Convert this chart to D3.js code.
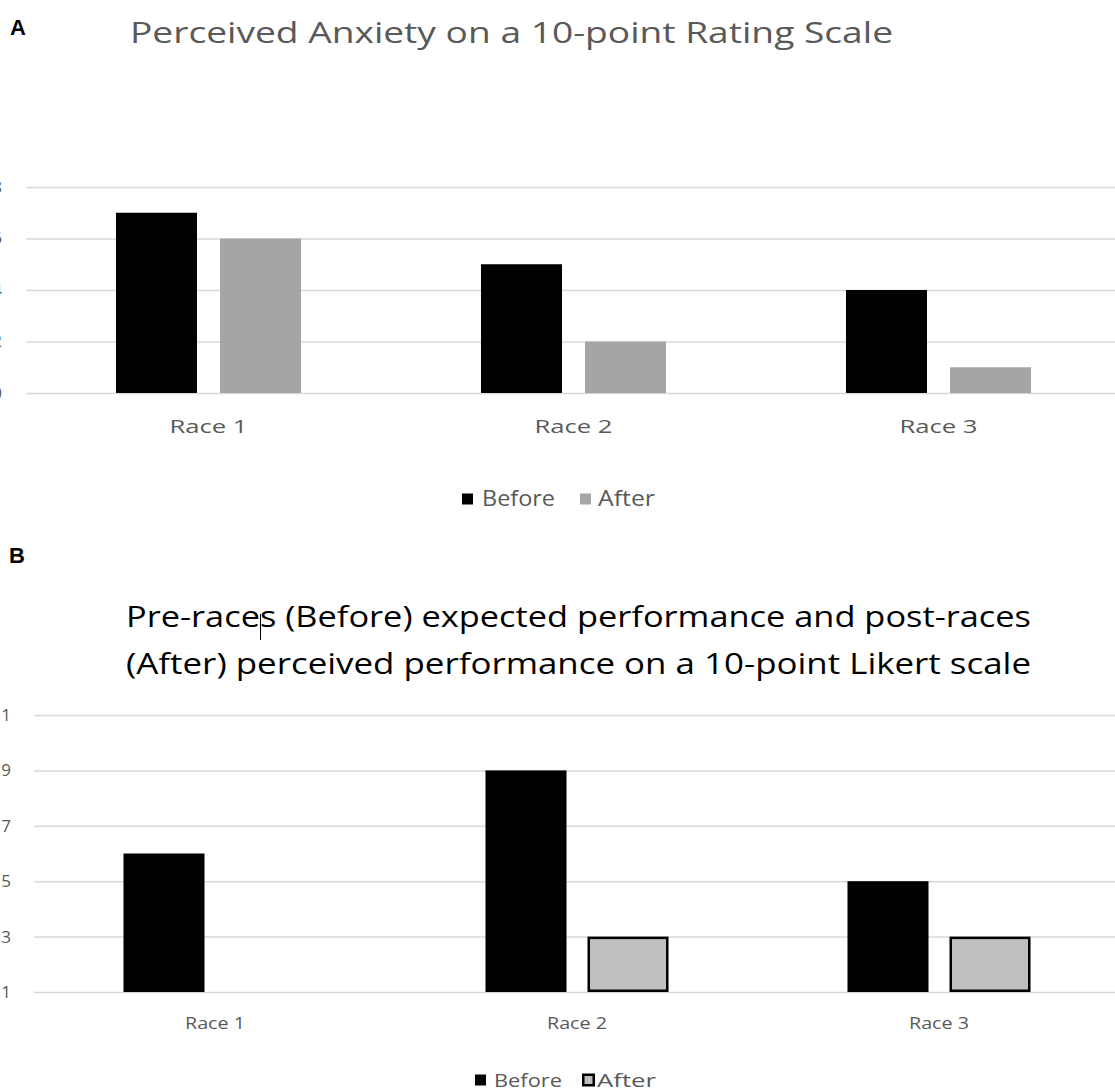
<!DOCTYPE html>
<html>
<head>
<meta charset="utf-8">
<script src="https://cdn.jsdelivr.net/npm/d3@7"></script>
<style>
  html, body { margin: 0; padding: 0; background: #fff; }
  svg { display: block; }
  text { font-family: "Open Sans", "Noto Sans", sans-serif; }
</style>
</head>
<body>
<svg id="chart" width="1115" height="1091"></svg>
<script>
// ---- data ----
const categories = ["Race 1", "Race 2", "Race 3"];
const seriesNames = ["Before", "After"];

const anxietyTitle = "Perceived Anxiety on a 10-point Rating Scale";
const anxietyBefore = [7, 5, 4];
const anxietyAfter = [6, 2, 1];
const anxietyTicks = [0, 2, 4, 6, 8];

const perfTitle = ["Pre-races (Before) expected performance and post-races",
                   "(After) perceived performance on a 10-point Likert scale"];
const perfBefore = [6, 9, 5];
const perfAfter = [null, 3, 3];
const perfTicks = [1, 3, 5, 7, 9, 11];

// ---- drawing ----
const svg = d3.select("#chart");
const GRAY_TXT = "#595959";
const GRID = "#d9d9d9";

function fit(sel, w) {
  sel.attr("textLength", w).attr("lengthAdjust", "spacingAndGlyphs");
}

function panel(cfg) {
  const g = svg.append("g");
  const x = d3.scaleBand().domain(categories).range([cfg.x0, cfg.x1]);
  const xs = d3.scaleBand().domain(seriesNames).range([0, x.bandwidth()])
    .paddingInner(cfg.pin).paddingOuter(cfg.pout);
  const y = d3.scaleLinear().domain(cfg.domain).range([cfg.yb, cfg.yt]);

  // gridlines + y labels
  const ya = g.append("g").attr("transform", `translate(${cfg.x0},0)`)
    .call(d3.axisLeft(y).tickValues(cfg.ticks).tickFormat(d3.format("d"))
      .tickSizeInner(-(cfg.x1 - cfg.x0)).tickSizeOuter(0).tickPadding(cfg.ypad));
  ya.select(".domain").remove();
  ya.selectAll(".tick line").attr("stroke", GRID).attr("stroke-width", 1.5);
  ya.selectAll(".tick text").attr("fill", GRAY_TXT).style("font-size", "17px")
    .style("font-family", "Open Sans");

  // bars
  const rows = categories.map((c, i) => ({ c, Before: cfg.before[i], After: cfg.after[i] }));
  const sw = cfg.afterStroke;
  seriesNames.forEach(s => {
    const st = s === "After" && sw > 0 ? sw : 0;
    g.append("g").selectAll("rect")
      .data(rows.filter(r => r[s] != null))
      .join("rect")
      .attr("x", r => x(r.c) + xs(s) + st / 2)
      .attr("y", r => y(r[s]) + st / 2)
      .attr("width", xs.bandwidth() - st)
      .attr("height", r => y(cfg.domain[0]) - y(r[s]) - st)
      .attr("fill", s === "Before" ? "#000" : cfg.afterFill)
      .attr("stroke", st ? "#000" : "none")
      .attr("stroke-width", st);
  });

  // category axis
  const xa = g.append("g").attr("transform", `translate(0,${cfg.yb})`)
    .call(d3.axisBottom(x).tickSize(0).tickPadding(cfg.xpad));
  xa.select(".domain").remove();
  xa.selectAll(".tick text").attr("fill", GRAY_TXT).style("font-size", cfg.catSize + "px")
    .style("font-family", "Open Sans");
  xa.selectAll(".tick text").each(function () { fit(d3.select(this), cfg.catW); });

  // legend
  const lg = g.append("g");
  seriesNames.forEach((s, i) => {
    const L = cfg.legend[i];
    const isAfter = s === "After";
    const st = isAfter && sw > 0 ? 2.5 : 0;
    lg.append("rect")
      .attr("x", L.sx + st / 2).attr("y", cfg.ly - L.ss / 2 + st / 2)
      .attr("width", L.ss - st).attr("height", L.ss - st)
      .attr("fill", isAfter ? cfg.afterFill : "#000")
      .attr("stroke", st ? "#000" : "none").attr("stroke-width", st);
    lg.append("text").attr("x", L.tx).attr("y", cfg.ly).attr("dy", "0.35em")
      .attr("fill", GRAY_TXT).style("font-size", cfg.legSize + "px")
      .text(s).call(fit, L.tw);
  });
  return g;
}

// Panel A
panel({
  x0: 26, x1: 1121, yb: 393, yt: 187, domain: [0, 8], ticks: anxietyTicks,
  before: anxietyBefore, after: anxietyAfter,
  pin: 23 / 104, pout: 0.865, afterFill: "#a5a5a5", afterStroke: 0,
  ypad: 24, xpad: 27, catSize: 19, catW: 78,
  ly: 499, legSize: 21,
  legend: [{ sx: 462, ss: 11, tx: 482, tw: 73 }, { sx: 580, ss: 11, tx: 598, tw: 57 }]
});
svg.append("text").attr("x", 511.5).attr("y", 43).attr("text-anchor", "middle")
  .attr("fill", GRAY_TXT).style("font-size", "30px").text(anxietyTitle).call(fit, 763);

// Panel B
panel({
  x0: 34, x1: 1120, yb: 992, yt: 715, domain: [1, 11], ticks: perfTicks,
  before: perfBefore, after: perfAfter,
  pin: 21 / 102, pout: 0.877, afterFill: "#bfbfbf", afterStroke: 2.5,
  ypad: 23, xpad: 26, catSize: 16, catW: 60,
  ly: 1080, legSize: 19,
  legend: [{ sx: 475, ss: 11, tx: 494, tw: 68 }, { sx: 582, ss: 13, tx: 597, tw: 59 }]
});
perfTitle.forEach((t, i) => {
  svg.append("text").attr("x", 578.5).attr("y", 627 + i * 47).attr("text-anchor", "middle")
    .attr("fill", "#000").style("font-size", "29px").text(t).call(fit, 905);
});
// text-cursor artifact in the original picture
svg.append("line").attr("x1", 260.5).attr("x2", 260.5).attr("y1", 614).attr("y2", 640)
  .attr("stroke", "#000").attr("stroke-width", 1);

// panel letters
svg.append("text").attr("x", 10).attr("y", 35).style("font-family", "Liberation Sans, Arial")
  .style("font-weight", "bold").style("font-size", "22px").attr("fill", "#000").text("A");
svg.append("text").attr("x", 9).attr("y", 563).style("font-family", "Liberation Sans, Arial")
  .style("font-weight", "bold").style("font-size", "22px").attr("fill", "#000").text("B");
</script>
</body>
</html>
